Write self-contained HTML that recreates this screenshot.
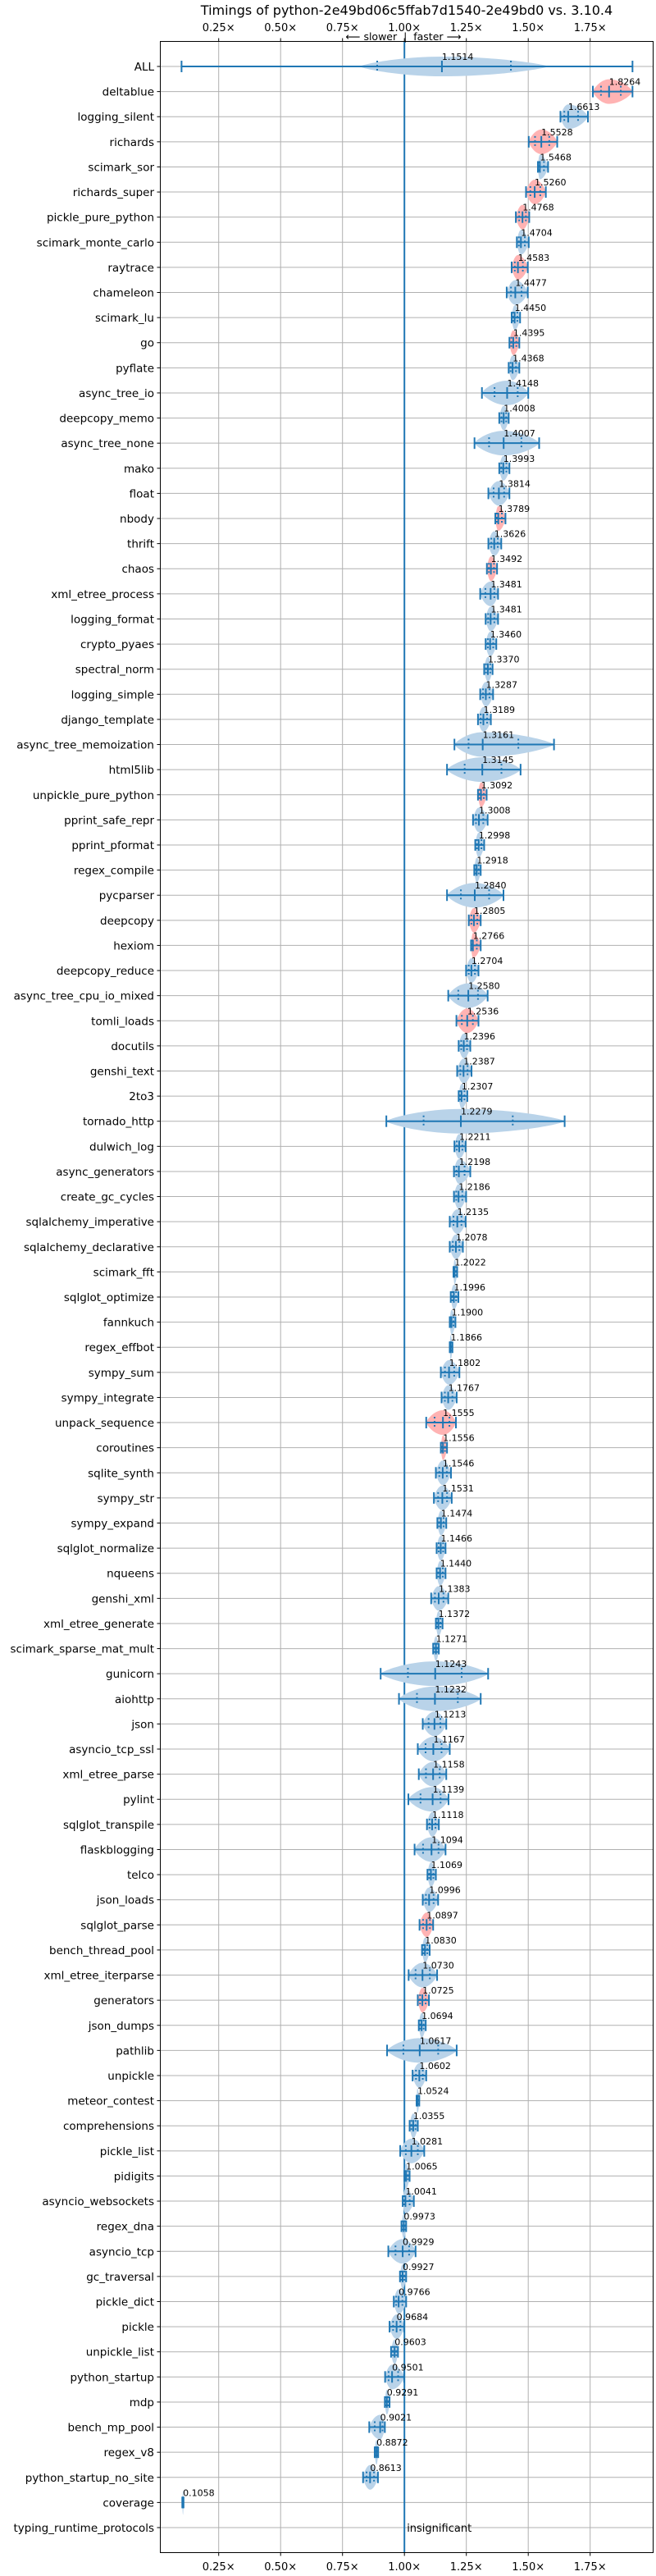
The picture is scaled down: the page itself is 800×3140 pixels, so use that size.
<!DOCTYPE html>
<html><head><meta charset="utf-8">
<style>
html,body{margin:0;padding:0;background:#fff;}
svg{display:block;font-family:"DejaVu Sans","Liberation Sans",sans-serif;}
</style></head>
<body>
<svg id="chart" width="800" height="3140" viewBox="0 0 800 3140" xmlns="http://www.w3.org/2000/svg">
<rect x="0" y="0" width="800" height="3140" fill="#fff"/>
<text x="496" y="18" font-size="16" text-anchor="middle" fill="#000">Timings of python-2e49bd06c5ffab7d1540-2e49bd0 vs. 3.10.4</text>
<text x="492" y="49" font-size="12.5" text-anchor="middle" fill="#000">⟵ slower &#160;|&#160; faster ⟶</text>
<g id="grid"></g>
<g id="marks"></g>
<g id="labels"></g>
<rect x="195.5" y="50.5" width="601" height="3061" fill="none" stroke="#000" stroke-width="1"/>
</svg>
<script>
const names = ["ALL","deltablue","logging_silent","richards","scimark_sor","richards_super","pickle_pure_python","scimark_monte_carlo","raytrace","chameleon","scimark_lu","go","pyflate","async_tree_io","deepcopy_memo","async_tree_none","mako","float","nbody","thrift","chaos","xml_etree_process","logging_format","crypto_pyaes","spectral_norm","logging_simple","django_template","async_tree_memoization","html5lib","unpickle_pure_python","pprint_safe_repr","pprint_pformat","regex_compile","pycparser","deepcopy","hexiom","deepcopy_reduce","async_tree_cpu_io_mixed","tomli_loads","docutils","genshi_text","2to3","tornado_http","dulwich_log","async_generators","create_gc_cycles","sqlalchemy_imperative","sqlalchemy_declarative","scimark_fft","sqlglot_optimize","fannkuch","regex_effbot","sympy_sum","sympy_integrate","unpack_sequence","coroutines","sqlite_synth","sympy_str","sympy_expand","sqlglot_normalize","nqueens","genshi_xml","xml_etree_generate","scimark_sparse_mat_mult","gunicorn","aiohttp","json","asyncio_tcp_ssl","xml_etree_parse","pylint","sqlglot_transpile","flaskblogging","telco","json_loads","sqlglot_parse","bench_thread_pool","xml_etree_iterparse","generators","json_dumps","pathlib","unpickle","meteor_contest","comprehensions","pickle_list","pidigits","asyncio_websockets","regex_dna","asyncio_tcp","gc_traversal","pickle_dict","pickle","unpickle_list","python_startup","mdp","bench_mp_pool","regex_v8","python_startup_no_site","coverage","typing_runtime_protocols"];
const values = [1.1514,1.8264,1.6613,1.5528,1.5468,1.5260,1.4768,1.4704,1.4583,1.4477,1.4450,1.4395,1.4368,1.4148,1.4008,1.4007,1.3993,1.3814,1.3789,1.3626,1.3492,1.3481,1.3481,1.3460,1.3370,1.3287,1.3189,1.3161,1.3145,1.3092,1.3008,1.2998,1.2918,1.2840,1.2805,1.2766,1.2704,1.2580,1.2536,1.2396,1.2387,1.2307,1.2279,1.2211,1.2198,1.2186,1.2135,1.2078,1.2022,1.1996,1.1900,1.1866,1.1802,1.1767,1.1555,1.1556,1.1546,1.1531,1.1474,1.1466,1.1440,1.1383,1.1372,1.1271,1.1243,1.1232,1.1213,1.1167,1.1158,1.1139,1.1118,1.1094,1.1069,1.0996,1.0897,1.0830,1.0730,1.0725,1.0694,1.0617,1.0602,1.0524,1.0355,1.0281,1.0065,1.0041,0.9973,0.9929,0.9927,0.9766,0.9684,0.9603,0.9501,0.9291,0.9021,0.8872,0.8613,0.1058,null];
const lows = [0.10,1.761,1.630,1.502,1.539,1.491,1.450,1.454,1.433,1.413,1.433,1.424,1.421,1.313,1.383,1.283,1.383,1.339,1.367,1.339,1.333,1.306,1.328,1.328,1.322,1.306,1.297,1.202,1.172,1.297,1.277,1.286,1.282,1.172,1.260,1.269,1.249,1.177,1.210,1.219,1.213,1.219,0.927,1.202,1.200,1.200,1.183,1.183,1.198,1.187,1.183,1.183,1.147,1.150,1.088,1.147,1.127,1.119,1.133,1.130,1.130,1.108,1.127,1.116,0.904,0.978,1.074,1.054,1.058,1.016,1.091,1.041,1.093,1.074,1.061,1.071,1.017,1.054,1.058,0.930,1.033,1.049,1.021,0.983,1.000,0.993,0.988,0.935,0.982,0.957,0.940,0.946,0.922,0.921,0.858,0.880,0.833,0.103,null];
const highs = [1.921,1.921,1.741,1.617,1.580,1.571,1.504,1.502,1.498,1.498,1.467,1.464,1.464,1.500,1.421,1.544,1.424,1.424,1.408,1.391,1.374,1.378,1.378,1.371,1.356,1.358,1.349,1.604,1.469,1.332,1.336,1.322,1.308,1.400,1.308,1.308,1.299,1.336,1.299,1.266,1.271,1.254,1.647,1.247,1.266,1.249,1.247,1.236,1.213,1.218,1.206,1.194,1.222,1.211,1.208,1.172,1.188,1.191,1.169,1.166,1.166,1.177,1.154,1.139,1.338,1.308,1.169,1.183,1.169,1.178,1.139,1.166,1.127,1.136,1.116,1.102,1.132,1.099,1.086,1.211,1.088,1.060,1.054,1.080,1.021,1.038,1.007,1.045,1.007,1.007,0.999,0.974,0.999,0.940,0.921,0.894,0.893,0.108,null];
const slowerSig = ["deltablue","richards","richards_super","pickle_pure_python","raytrace","go","nbody","chaos","unpickle_pure_python","deepcopy","hexiom","tomli_loads","unpack_sequence","coroutines","sqlglot_parse","generators"];
const allQuartiles = [0.89, 1.43];
const tickValues = [0.25,0.5,0.75,1.0,1.25,1.5,1.75];
const tickLabels = ["0.25×","0.50×","0.75×","1.00×","1.25×","1.50×","1.75×"];

const NS = "http://www.w3.org/2000/svg";
const X0 = 195.5, X1 = 796.5, Y0 = 50.5, Y1 = 3111.5;
function xs(v){ return 493.2 + (v - 1) * 302; }
function ys(i){ return 81 + i * (3000 / 98); }
function mk(tag, attrs, parent){
  const e = document.createElementNS(NS, tag);
  for (const k in attrs) e.setAttribute(k, attrs[k]);
  parent.appendChild(e);
  return e;
}
const grid = document.getElementById('grid');
const marks = document.getElementById('marks');
const labels = document.getElementById('labels');

tickValues.forEach((t, i) => {
  const x = xs(t);
  const g = mk('line', {x1:x, x2:x, y1:Y0, y2:Y1, stroke:'#b0b0b0', 'stroke-width':1}, grid);
  
  
  mk('line', {x1:x, x2:x, y1:Y0-4, y2:Y0, stroke:'#000', 'stroke-width':1}, grid);
  mk('line', {x1:x, x2:x, y1:Y1, y2:Y1+4, stroke:'#000', 'stroke-width':1}, grid);
  const tt = mk('text', {x:x, y:38, 'font-size':13, 'text-anchor':'middle', fill:'#000'}, labels);
  tt.textContent = tickLabels[i];
  
  
  const tb = mk('text', {x:x, y:3133, 'font-size':13, 'text-anchor':'middle', fill:'#000'}, labels);
  tb.textContent = tickLabels[i];
  
  
});

names.forEach((n, i) => {
  const y = ys(i);
  const gl = mk('line', {x1:X0, x2:X1, y1:y, y2:y, stroke:'#b0b0b0', 'stroke-width':1}, grid);
  
  
  mk('line', {x1:X0-4, x2:X0, y1:y, y2:y, stroke:'#000', 'stroke-width':1}, grid);
  const lab = mk('text', {x:188, y:y+5, 'font-size':13.5, 'text-anchor':'end', fill:'#000'}, labels);
  lab.textContent = n;
  
  
});

const ref = mk('line', {x1:xs(1), x2:xs(1), y1:Y0, y2:Y1, stroke:'#1f77b4', 'stroke-width':2}, marks);



names.forEach((n, i) => {
  const v = values[i];
  const y = ys(i);
  if (v === null) {
    const t = mk('text', {x:xs(1)+3, y:y+5, 'font-size':13, fill:'#000'}, labels);
    t.textContent = 'insignificant';
    
    
    return;
  }
  const lo = lows[i], hi = highs[i];
  const red = slowerSig.indexOf(n) >= 0;
  let vl = lo, vh = hi, h = 15;
  if (i === 0) { vl = 0.82; vh = 1.58; h = 12; }
  const L = xs(vl), H = xs(vh), M = xs(v);
  const d = `M${L},${y} C${L},${y-h*0.15} ${M-(M-L)*0.55},${y-h} ${M},${y-h} C${M+(H-M)*0.55},${y-h} ${H},${y-h*0.15} ${H},${y} C${H},${y+h*0.15} ${M+(H-M)*0.55},${y+h} ${M},${y+h} C${M-(M-L)*0.55},${y+h} ${L},${y+h*0.15} ${L},${y} Z`;
  const vp = mk('path', {d:d, fill: red ? '#ffb3b3' : '#b9d3e9'}, marks);
  
  

  const xl = xs(lo), xh = xs(hi);
  const wl = mk('line', {x1:xl, x2:xh, y1:y, y2:y, stroke:'#1f77b4', 'stroke-width':2}, marks);
  
  
  [xl, xh, M].forEach(cx => {
    mk('line', {x1:cx, x2:cx, y1:y-7, y2:y+7, stroke:'#1f77b4', 'stroke-width':2}, marks);
  });
  let q1 = M - (M - xl) * 0.5, q3 = M + (xh - M) * 0.5;
  if (i === 0) { q1 = xs(allQuartiles[0]); q3 = xs(allQuartiles[1]); }
  [q1, q3].forEach(cx => {
    mk('line', {x1:cx, x2:cx, y1:y-7, y2:y+7, stroke:'#1f77b4', 'stroke-width':2, 'stroke-dasharray':'2,3'}, marks);
  });
  const vt = mk('text', {x:M, y:y-8, 'font-size':11, fill:'#000'}, labels);
  vt.textContent = v.toFixed(4);
  
  
});
</script>
</body></html>
